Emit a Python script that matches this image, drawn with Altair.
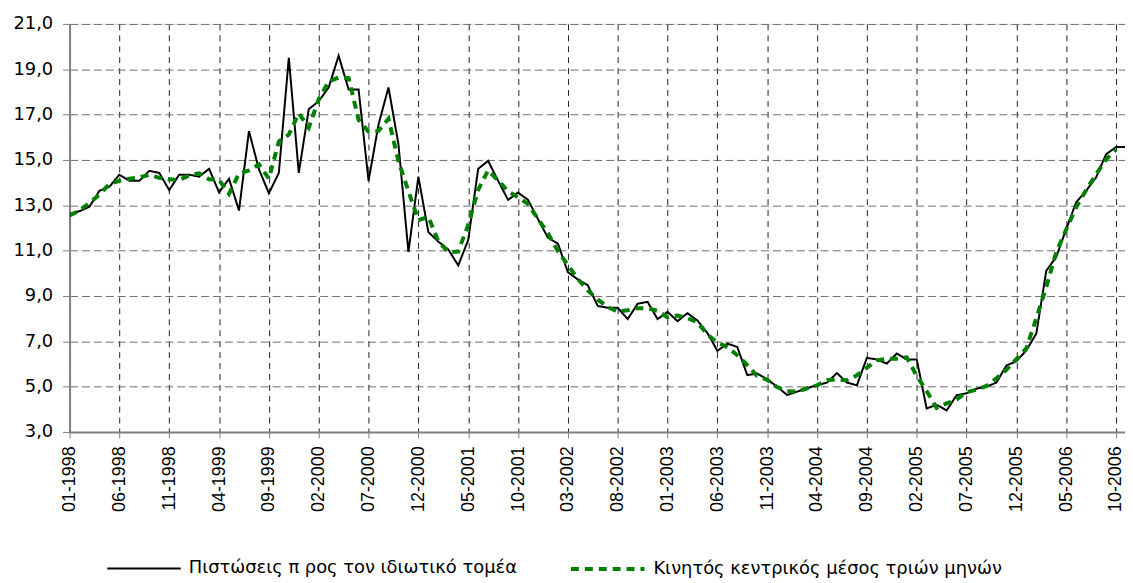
import json
import altair as alt
import pandas as pd

# Monthly categories 01-1998 .. 11-2006
months = [f"{m:02d}-{y}" for y in range(1998, 2007) for m in range(1, 13)][:107]

credit = [
    12.62, 12.74, 12.94, 13.64, 13.82, 14.35, 14.08, 14.08, 14.52, 14.43,
    13.67, 14.35, 14.35, 14.26, 14.61, 13.57, 14.17, 12.77, 16.27, 14.59,
    13.53, 14.43, 19.51, 14.43, 17.24, 17.59, 18.20, 19.60, 18.11, 18.11,
    14.08, 16.56, 18.20, 15.69, 10.94, 14.26, 11.82, 11.40, 11.05, 10.35,
    11.47, 14.61, 14.96, 14.08, 13.24, 13.56, 13.24, 12.39, 11.57, 11.31,
    10.05, 9.73, 9.47, 8.56, 8.48, 8.48, 7.98, 8.66, 8.74, 7.98,
    8.30, 7.89, 8.24, 7.92, 7.37, 6.58, 6.90, 6.75, 5.51, 5.58,
    5.32, 5.00, 4.63, 4.78, 4.93, 5.07, 5.18, 5.60, 5.18, 5.06,
    6.27, 6.20, 6.02, 6.46, 6.20, 6.20, 4.04, 4.20, 3.95, 4.62,
    4.71, 4.91, 5.00, 5.18, 5.93, 6.12, 6.60, 7.34, 10.11, 10.72,
    11.95, 13.13, 13.64, 14.23, 15.25, 15.57, 15.57,
]

moving_avg = [
    12.55, 12.77, 13.11, 13.47, 13.94, 14.08, 14.17, 14.23, 14.34, 14.21,
    14.15, 14.12, 14.32, 14.41, 14.15, 14.12, 13.50, 14.40, 14.54, 14.80,
    14.18, 15.82, 16.12, 17.06, 16.42, 17.68, 18.46, 18.64, 18.61, 16.77,
    16.25, 16.28, 16.82, 14.94, 13.63, 12.34, 12.49, 11.42, 10.93, 10.96,
    12.14, 13.68, 14.55, 14.09, 13.63, 13.35, 13.06, 12.40, 11.76, 10.98,
    10.36, 9.75, 9.25, 8.84, 8.51, 8.31, 8.37, 8.46, 8.46, 8.34,
    8.06, 8.14, 8.02, 7.84, 7.29, 6.95, 6.74, 6.39, 5.95, 5.47,
    5.30, 4.98, 4.80, 4.78, 4.93, 5.06, 5.28, 5.32, 5.28, 5.50,
    5.84, 6.16, 6.23, 6.23, 6.29, 5.48, 4.81, 4.06, 4.26, 4.43,
    4.75, 4.87, 5.03, 5.37, 5.74, 6.22, 6.69, 8.02, 9.39, 10.93,
    11.93, 12.91, 13.67, 14.37, 15.02, 15.46,
]

series_names = ["Πιστώσεις π ρος τον ιδιωτικό τομέα", "Κινητός κεντρικός μέσος τριών μηνών"]
y_ticks = [3, 5, 7, 9, 11, 13, 15, 17, 19, 21]
x_tick_idx = list(range(0, 106, 5))

rows = []
for i, v in enumerate(credit):
    rows.append({"idx": i, "month": months[i], "value": v, "series": series_names[0]})
for i, v in enumerate(moving_avg):
    rows.append({"idx": i, "month": months[i], "value": v, "series": series_names[1]})
df = pd.DataFrame(rows)

label_expr = json.dumps(months) + "[datum.value]"
FONT = "Liberation Sans"
WIDE = "DejaVu Sans"

chart = alt.Chart(df).mark_line(clip=True).encode(
    x=alt.X("idx:Q",
            scale=alt.Scale(domain=[0, 105.9], nice=False, zero=False),
            axis=alt.Axis(values=x_tick_idx, labelExpr=label_expr, labelAngle=270,
                          labelAlign="right", labelBaseline="middle", labelPadding=8,
                          labelFontSize=18, labelFont=FONT, labelColor="black",
                          tickSize=6, tickColor="#808080", tickWidth=1,
                          domainColor="#808080", domainWidth=2,
                          grid=True, gridColor="#222222", gridDash=[6, 5], gridWidth=1,
                          title=None)),
    y=alt.Y("value:Q",
            scale=alt.Scale(domain=[3, 21], nice=False, zero=False),
            axis=alt.Axis(values=y_ticks,
                          labelExpr="replace(format(datum.value, '.1f'), '.', ',')",
                          labelFontSize=18, labelFont=WIDE, labelColor="black",
                          labelPadding=10, tickSize=7, tickColor="#808080", tickWidth=1,
                          domainColor="#808080", domainWidth=2,
                          grid=True, gridColor="#6e6e6e", gridDash=[8, 4], gridWidth=1,
                          title=None)),
    color=alt.Color("series:N",
                    scale=alt.Scale(domain=series_names, range=["#000000", "#008000"]),
                    legend=alt.Legend(orient="none", legendX=37, legendY=510,
                                      direction="horizontal", title=None,
                                      symbolType="stroke", symbolSize=5476,
                                      labelFontSize=18, labelFont=WIDE, labelColor="black",
                                      labelLimit=0, labelOffset=7, columnPadding=46,
                                      padding=0)),
    strokeDash=alt.StrokeDash("series:N",
                              scale=alt.Scale(domain=series_names, range=[[1, 0], [8, 6]])),
    strokeWidth=alt.StrokeWidth("series:N",
                                scale=alt.Scale(domain=series_names, range=[2, 4])),
    order=alt.Order("idx:Q"),
).properties(
    width=1063,
    height=411,
    autosize=alt.AutoSizeParams(type="none"),
    padding={"left": 62, "top": 14, "right": 0, "bottom": 146},
).configure_view(stroke=None).configure(background="white")

chart.save("out.html", embed_options={"renderer": "svg", "actions": False})
